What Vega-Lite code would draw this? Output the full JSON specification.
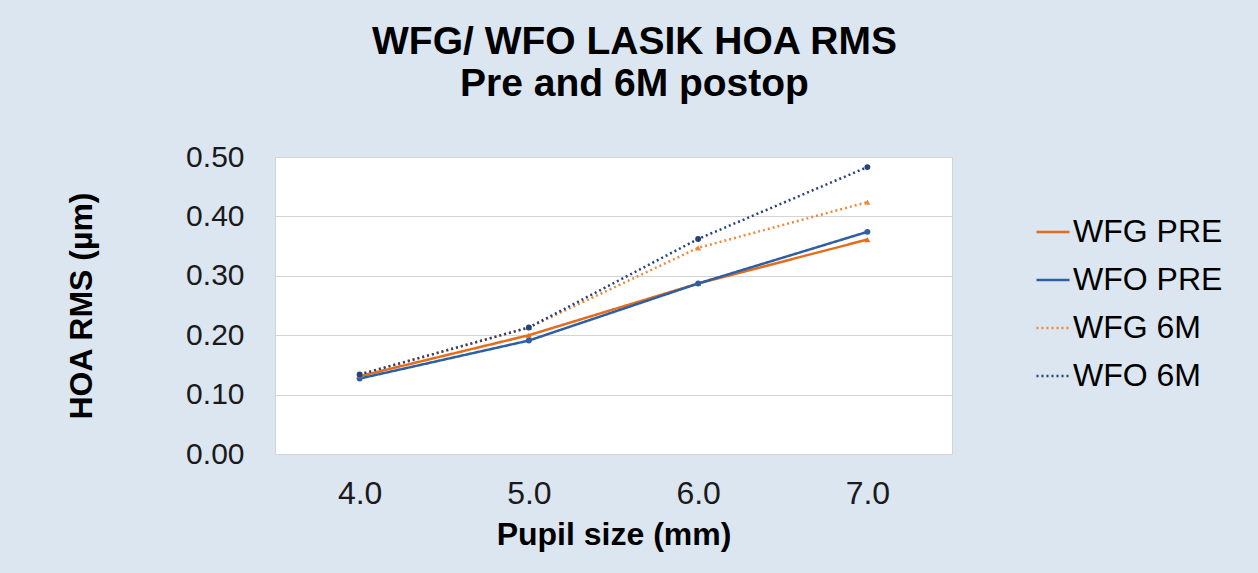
{
  "$schema": "https://vega.github.io/schema/vega-lite/v6.json",
  "width": 677,
  "height": 297,
  "autosize": {"type": "none"},
  "padding": {"left": 275, "top": 157, "right": 306, "bottom": 119},
  "background": "#dce6f1",
  "config": {
    "font": "Liberation Sans",
    "view": {"fill": "white", "stroke": "#d4d4d4"},
    "axis": {"labelFont": "Liberation Sans", "titleFont": "Liberation Sans", "labelColor": "#1a1a1a", "titleColor": "#000000"}
  },
  "title": {
    "text": ["WFG/ WFO LASIK HOA RMS", "Pre and 6M postop"],
    "font": "Liberation Sans",
    "fontSize": 39,
    "fontWeight": "bold",
    "color": "#000000",
    "anchor": "middle",
    "dx": 21,
    "offset": 38,
    "lineHeight": 42
  },
  "data": {
    "values": [
      {"pupil": "4.0", "series": "WFG PRE", "group": "WFG", "rms": 0.131},
      {"pupil": "5.0", "series": "WFG PRE", "group": "WFG", "rms": 0.200},
      {"pupil": "6.0", "series": "WFG PRE", "group": "WFG", "rms": 0.287},
      {"pupil": "7.0", "series": "WFG PRE", "group": "WFG", "rms": 0.361},
      {"pupil": "4.0", "series": "WFO PRE", "group": "WFO", "rms": 0.127},
      {"pupil": "5.0", "series": "WFO PRE", "group": "WFO", "rms": 0.191},
      {"pupil": "6.0", "series": "WFO PRE", "group": "WFO", "rms": 0.287},
      {"pupil": "7.0", "series": "WFO PRE", "group": "WFO", "rms": 0.374},
      {"pupil": "4.0", "series": "WFG 6M", "group": "WFG", "rms": 0.133},
      {"pupil": "5.0", "series": "WFG 6M", "group": "WFG", "rms": 0.213},
      {"pupil": "6.0", "series": "WFG 6M", "group": "WFG", "rms": 0.347},
      {"pupil": "7.0", "series": "WFG 6M", "group": "WFG", "rms": 0.424},
      {"pupil": "4.0", "series": "WFO 6M", "group": "WFO", "rms": 0.134},
      {"pupil": "5.0", "series": "WFO 6M", "group": "WFO", "rms": 0.213},
      {"pupil": "6.0", "series": "WFO 6M", "group": "WFO", "rms": 0.362},
      {"pupil": "7.0", "series": "WFO 6M", "group": "WFO", "rms": 0.483}
    ]
  },
  "encoding": {
    "x": {
      "field": "pupil", "type": "ordinal",
      "scale": {"type": "point", "padding": 0.5},
      "axis": {"title": "Pupil size (mm)", "labelAngle": 0, "labelFontSize": 32, "titleFontSize": 32, "titleFontWeight": "bold", "ticks": false, "domain": false, "labelPadding": 24, "titlePadding": 10}
    },
    "y": {
      "field": "rms", "type": "quantitative",
      "scale": {"domain": [0, 0.5]},
      "axis": {"title": "HOA RMS (µm)", "format": ".2f", "values": [0, 0.1, 0.2, 0.3, 0.4, 0.5], "labelFontSize": 30, "titleFontSize": 32, "titleFontWeight": "bold", "ticks": false, "domain": false, "labelPadding": 31, "titlePadding": 87, "gridColor": "#d4d4d4", "gridWidth": 1.2}
    }
  },
  "layer": [
    {
      "mark": {"type": "line", "strokeWidth": 2.5},
      "encoding": {
        "color": {
          "field": "series", "type": "nominal",
          "scale": {"domain": ["WFG PRE", "WFO PRE", "WFG 6M", "WFO 6M"], "range": ["#e46c1a", "#2e5fa3", "#ed8a3a", "#26427a"]},
          "legend": {"title": null, "orient": "none", "legendX": 760, "legendY": 57, "labelFontSize": 32, "labelColor": "#000000", "symbolType": "stroke", "symbolSize": 1089, "symbolStrokeWidth": 2.5, "rowPadding": 14, "labelOffset": 2, "labelFont": "Liberation Sans", "padding": 0}
        },
        "strokeDash": {
          "field": "series", "type": "nominal",
          "scale": {"domain": ["WFG PRE", "WFO PRE", "WFG 6M", "WFO 6M"], "range": [[1, 0], [1, 0], [2, 3], [2, 3]]},
          "legend": {"title": null, "orient": "none", "legendX": 760, "legendY": 57, "labelFontSize": 32, "labelColor": "#000000", "symbolType": "stroke", "symbolSize": 1089, "symbolStrokeWidth": 2.5, "rowPadding": 14, "labelOffset": 2, "labelFont": "Liberation Sans", "padding": 0}
        }
      }
    },
    {
      "mark": {"type": "point", "filled": true, "size": 35, "opacity": 1},
      "encoding": {
        "color": {"field": "series", "type": "nominal", "legend": null},
        "shape": {
          "field": "group", "type": "nominal",
          "scale": {"domain": ["WFG", "WFO"], "range": ["triangle-up", "circle"]},
          "legend": null
        }
      }
    }
  ]
}
